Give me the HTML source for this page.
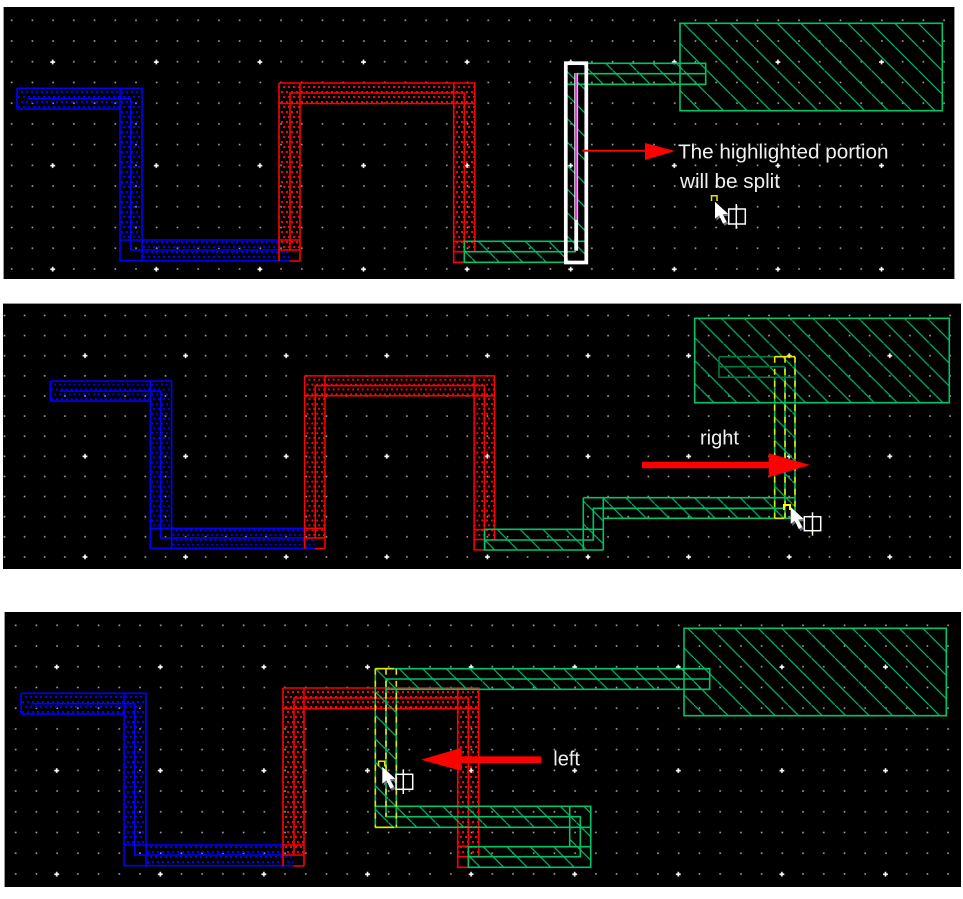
<!DOCTYPE html>
<html>
<head>
<meta charset="utf-8">
<style>
html,body{margin:0;padding:0;background:#fff;width:963px;height:899px;overflow:hidden}
svg{display:block}
text{font-family:"Liberation Sans",sans-serif;fill:#f0f0f0}
</style>
</head>
<body>
<svg width="963" height="899" viewBox="0 0 963 899" xmlns="http://www.w3.org/2000/svg">
<defs>
<pattern id="g1" patternUnits="userSpaceOnUse" x="10.7" y="19.3" width="20.72" height="20.72"><rect x="0.2" y="0.2" width="1.6" height="1.6" fill="#a8a8a8"/></pattern>
<pattern id="M1" patternUnits="userSpaceOnUse" x="49.7" y="59" width="103.6" height="103.6"><path d="M0.6 2.2h4.8v1.6h-4.8zM2.2 0.6h1.6v4.8h-1.6z" fill="#fff"/></pattern>
<pattern id="g2" patternUnits="userSpaceOnUse" x="3.5" y="314.5" width="20.12" height="20.12"><rect x="0.2" y="0.2" width="1.6" height="1.6" fill="#a8a8a8"/></pattern>
<pattern id="M2" patternUnits="userSpaceOnUse" x="82" y="352.7" width="100.6" height="100.6"><path d="M0.6 2.2h4.8v1.6h-4.8zM2.2 0.6h1.6v4.8h-1.6z" fill="#fff"/></pattern>
<pattern id="g3" patternUnits="userSpaceOnUse" x="14.7" y="624.3" width="20.72" height="20.72"><rect x="0.2" y="0.2" width="1.6" height="1.6" fill="#a8a8a8"/></pattern>
<pattern id="M3" patternUnits="userSpaceOnUse" x="53.7" y="664" width="103.6" height="103.6"><path d="M0.6 2.2h4.8v1.6h-4.8zM2.2 0.6h1.6v4.8h-1.6z" fill="#fff"/></pattern>

<pattern id="hb" patternUnits="userSpaceOnUse" x="0" y="0" width="10" height="10"><g shape-rendering="crispEdges" fill="#0000ff"><rect x="1" y="1" width="2" height="2"/><rect x="6" y="1" width="2" height="2"/><rect x="3" y="6" width="2" height="2"/><rect x="8" y="6" width="2" height="2"/></g></pattern>
<pattern id="hr" patternUnits="userSpaceOnUse" x="0" y="0" width="10" height="10"><g shape-rendering="crispEdges" fill="#ff0000"><rect x="1" y="1" width="2" height="2"/><rect x="6" y="1" width="2" height="2"/><rect x="3" y="6" width="2" height="2"/><rect x="8" y="6" width="2" height="2"/></g></pattern>

<pattern id="h1" patternUnits="userSpaceOnUse" x="660" y="0" width="23.5" height="23.5"><path d="M-2 -2L25.5 25.5" stroke="#00b060" stroke-width="1.3" fill="none"/></pattern>
<pattern id="h2" patternUnits="userSpaceOnUse" x="380" y="0" width="22.9" height="22.9"><path d="M-2 -2L24.9 24.9" stroke="#00b060" stroke-width="1.3" fill="none"/></pattern>
<pattern id="h3" patternUnits="userSpaceOnUse" x="59.5" y="0" width="23.5" height="23.5"><path d="M-2 -2L25.5 25.5" stroke="#00b060" stroke-width="1.3" fill="none"/></pattern>

<g id="br">
  <path d="M17 88.3H142V260.7H289.5V250H279V240H120V109H17Z" fill="url(#hb)"/>
  <path d="M279 83H474.7V251.7H453.7V103.5H300V250H279Z" fill="url(#hr)"/>
  <path fill="none" stroke="#0000ff" stroke-width="1.6" d="M17 88.3H142V240M17 109H120M17 88.3V109M120 88.3V260.7H289.5M142 109V260.7M120 240H279M27 98.7H130.7V250H279"/>
  <path fill="none" stroke="#ff0000" stroke-width="1.6" d="M279 83H474.7V251.7M279 103.5H474.7M279 83V261M300 83V261M290 250V93H464.3V251.7M279 240H300M279 250H300M289.5 261H300M453.7 83V262.3H464.3V241.3H453.7M453.7 251.7H464.3"/>
</g>
<g id="cur">
  <polygon points="1.5,2 1.5,19 5.5,15.5 9.5,24 13,22 9,14.5 15,14" fill="#6a7080"/>
  <polygon points="0,0 0,17 4,13.5 8,22 11.5,20 7.5,12.5 13,12" fill="#fff"/>
</g>
</defs>

<rect width="963" height="899" fill="#fff"/>

<!-- Panel 1 -->
<rect x="3" y="7" width="952" height="272" fill="#000"/>
<rect x="3" y="7" width="1" height="272" fill="#999"/>
<rect x="954" y="7" width="1" height="272" fill="#999"/>
<rect x="4" y="7" width="950" height="272" fill="url(#g1)"/>
<rect x="4" y="7" width="950" height="272" fill="url(#M1)"/>
<use href="#br"/>
<g>
  <path d="M680 23.3H942.3V110.7H680ZM566 63.3H705.7V84.3H587.3V262.3H464.3V241.3H566Z" fill="url(#h1)"/>
  <path fill="none" stroke="#00c468" stroke-width="1.6" d="M680 23.3H942.3V110.7H680ZM566 63.3H705.7V84.3H566ZM464.3 241.3H587V262.3H464.3ZM464.3 251.7H576M576 73.7H705.7"/>
  <rect x="565.8" y="63.2" width="20.5" height="199.3" fill="none" stroke="#fff" stroke-width="3.7"/>
  <rect x="574.3" y="73" width="3.8" height="177.7" fill="#fff"/>
  <rect x="575" y="73" width="2.4" height="147" fill="#e040e0"/>
  <path d="M582.3 150.7H648" stroke="#f00" stroke-width="2" fill="none"/>
  <polygon points="645,143 675,151 645,160" fill="#f00"/>
</g>
<text x="678" y="158.5" font-size="20.7">The highlighted portion</text>
<text x="680" y="188" font-size="20.7">will be split</text>
<path d="M711.5 201V195.8H717V201" fill="none" stroke="#e6e600" stroke-width="1.5"/>
<use href="#cur" x="715" y="201.7"/>
<rect x="728.7" y="209" width="16.6" height="15" fill="none" stroke="#fff" stroke-width="1.5"/>
<path d="M736.3 204V228.7" stroke="#fff" stroke-width="1.5"/>

<!-- Panel 2 -->
<rect x="3" y="303.5" width="958" height="265.5" fill="#000"/>
<rect x="3" y="303" width="958" height="1" fill="#999"/>
<rect x="3" y="304" width="958" height="265" fill="url(#g2)"/>
<rect x="3" y="304" width="958" height="265" fill="url(#M2)"/>
<use href="#br" transform="translate(33.8 295.3) scale(.9705)"/>
<g>
  <path d="M694.7 318.3H949.3V402.7H694.7ZM774.7 356.7H795V518.3H603.3V550H484.7V529.3H583.3V497.7H774.7Z" fill="url(#h2)"/>
  <path fill="none" stroke="#00c468" stroke-width="1.6" d="M694.7 318.3H949.3V402.7H694.7ZM583.3 497.7H795M603.3 518.3H795M583.3 497.7V550M484.7 529.3V550H603.3M484.7 529.3H603.3M603.3 497.7V550M484.7 540H593.3V508.3H785M774.7 377.3V518.3M785 366.7V518.3M795 356.7V518.3"/>
  <path fill="none" stroke="#007a40" stroke-width="1.6" d="M719 356.7H795M719 356.7V377.3H795M719 366.7H785"/>
  <path fill="none" stroke="#e8e800" stroke-width="1.6" stroke-dasharray="6 6" d="M774.7 356.7V518.3M785 356.7V518.3M795 356.7V518.3"/>
  <path fill="none" stroke="#e8e800" stroke-width="1.6" d="M774.7 518.3H784M774.7 356.7H795"/>
  <path d="M642 461.7H770V468.3H642Z" fill="#f00"/>
  <polygon points="768.7,453.3 810,465 768.7,477.3" fill="#f00"/>
</g>
<text x="700" y="444.5" font-size="20">right</text>
<path d="M784 510V505H790V510" fill="none" stroke="#ffff00" stroke-width="2"/>
<use href="#cur" x="790.7" y="507"/>
<rect x="804.3" y="516.7" width="16.4" height="14" fill="none" stroke="#fff" stroke-width="1.5"/>
<path d="M812.5 512.3V535.7" stroke="#fff" stroke-width="1.5"/>

<!-- Panel 3 -->
<rect x="4" y="612" width="957" height="275" fill="#000"/>
<rect x="4" y="612" width="1" height="275" fill="#999"/>
<rect x="5" y="612" width="956" height="275" fill="url(#g3)"/>
<rect x="5" y="612" width="956" height="275" fill="url(#M3)"/>
<use href="#br" transform="translate(4 605)"/>
<g>
  <path d="M684 628.3H946.3V715.7H684ZM375.3 668.7H709.7V689.3H396.3V806.3H590.7V867.3H468.3V846.7H569.7V827.3H375.3Z" fill="url(#h3)"/>
  <path fill="none" stroke="#00c468" stroke-width="1.6" d="M684 628.3H946.3V715.7H684ZM375.3 668.7H709.7V689.3H386M375.3 668.7V827.3H590.7M386 679H709.7M386 679V816.7H580.3V856.7H468.3M396.3 689.3V827.3M375.3 806.3H590.7V867.3H468.3V846.7H590.7M569.7 806.3V846.7"/>
  <path fill="none" stroke="#e8e800" stroke-width="1.6" stroke-dasharray="6 6" d="M375.3 668.7V827.3M386 668.7V816.7M396.3 668.7V827.3"/>
  <path fill="none" stroke="#e8e800" stroke-width="1.6" d="M375.3 668.7H394M375.3 827.3H394"/>
  <path d="M541 756.4H460V763H541Z" fill="#f00"/>
  <polygon points="461.7,747.7 421,759.7 461.7,771" fill="#f00"/>
</g>
<text x="553.3" y="765.5" font-size="20">left</text>
<path d="M378.5 766.5V761.2H384.7V766.5" fill="none" stroke="#e6e600" stroke-width="1.5"/>
<use href="#cur" x="382.3" y="766.7"/>
<rect x="396" y="774.3" width="16.7" height="15" fill="none" stroke="#fff" stroke-width="1.5"/>
<path d="M403.3 769.3V794" stroke="#fff" stroke-width="1.5"/>
</svg>
</body>
</html>
